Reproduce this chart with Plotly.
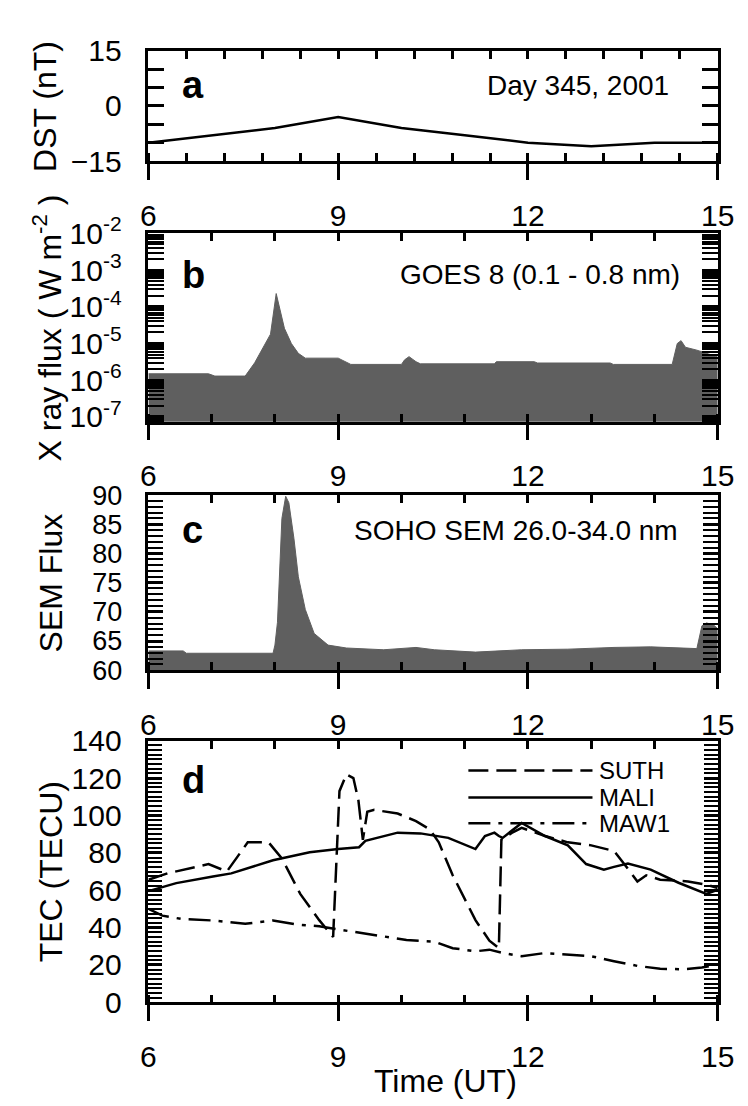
import plotly.graph_objects as go

# ---------------- data ----------------
dst_time = [6, 7, 8, 9, 10, 11, 12, 13, 14, 15]
dst_val = [-10, -8, -6, -3, -6, -8, -10, -11, -10, -10]

xray_time = [6.0, 6.95, 7.05, 7.53, 7.68, 7.82, 7.93, 8.02, 8.08, 8.15, 8.26, 8.37, 8.48,
             9.0, 9.2, 10.0, 10.05, 10.12, 10.23, 10.3, 11.47, 11.5, 12.1, 12.15, 13.3,
             13.35, 14.28, 14.36, 14.42, 14.49, 14.67, 14.96, 15.0]
xray_flux = [1.5e-6, 1.5e-6, 1.3e-6, 1.3e-6, 3.0e-6, 7.9e-6, 1.8e-5, 2.3e-4, 8.7e-5, 2.6e-5,
             1.0e-5, 5.4e-6, 4.0e-6, 4.0e-6, 2.7e-6, 2.7e-6, 3.6e-6, 4.4e-6, 3.2e-6, 2.8e-6,
             2.8e-6, 3.2e-6, 3.2e-6, 2.95e-6, 2.95e-6, 2.7e-6, 2.7e-6, 1.0e-5, 1.2e-5, 7.9e-6,
             6.6e-6, 4.4e-6, 4.3e-6]

sem_time = [6.0, 6.55, 6.6, 7.97, 8.0, 8.04, 8.11, 8.17, 8.22, 8.3, 8.37, 8.48, 8.62, 8.84,
            9.13, 9.72, 10.23, 10.52, 11.17, 11.9, 12.63, 13.36, 13.94, 14.67, 14.75, 14.82,
            14.93, 15.0]
sem_flux = [63.3, 63.3, 62.9, 62.9, 64.3, 68.2, 86.0, 89.8, 88.7, 82.6, 76.0, 70.4, 66.3, 64.3,
            63.8, 63.5, 63.9, 63.5, 63.1, 63.5, 63.6, 63.9, 64.0, 63.7, 67.6, 68.1, 67.8, 67.1]

suth_time = [6.0, 6.3, 6.95, 7.24, 7.57, 7.9, 8.11, 8.4, 8.7, 8.92, 9.02, 9.13, 9.24, 9.32,
             9.39, 9.46, 9.57, 9.94, 10.23, 10.45, 10.59, 10.81, 11.17, 11.39, 11.54, 11.58,
             11.76, 11.9, 12.27, 12.63, 13.0, 13.36, 13.5, 13.73, 13.87, 14.09, 14.53, 14.82, 15.0]
suth_tec = [65.6, 69, 74, 70, 85.6, 85.6, 77, 58, 44, 35, 113, 122, 120, 108,
            87, 102, 103, 101, 97, 92.5, 85.6, 68, 44, 33, 29, 87,
            91, 93.4, 89, 85.6, 84, 81, 75, 64.7, 68, 65.6, 64.7, 63, 61.2]

mali_time = [6.0, 6.44, 7.02, 7.31, 7.97, 8.55, 9.0, 9.33, 9.43, 9.94, 10.3, 10.74, 11.17,
             11.32, 11.47, 11.54, 11.6, 11.9, 12.27, 12.63, 12.92, 13.2, 13.36, 13.58, 13.94,
             14.38, 14.82, 15.0]
mali_tec = [59.5, 63.8, 67.3, 69, 76, 80.3, 82, 83, 86.4, 90.8, 90.4, 88, 82,
            89, 90.8, 89, 88, 96, 89, 84, 74, 71, 72.5, 74.3, 71,
            64, 58, 60.3]

maw1_time = [6.0, 6.22, 6.51, 7.02, 7.53, 7.97, 8.33, 8.7, 9.0, 9.43, 9.72, 10.08, 10.52,
             10.81, 11.17, 11.39, 11.61, 11.9, 12.27, 12.63, 13.0, 13.36, 13.73, 14.09,
             14.46, 14.75, 15.0]
maw1_tec = [50, 46.4, 44.7, 43.8, 42, 43.8, 41.7, 40.7, 39, 36.9, 35.5, 33.4, 32.5,
            29, 27.3, 28.2, 26.4, 24.7, 26.4, 25.6, 24.7, 22, 19.5, 18,
            17.7, 18.6, 20.3]

x_ticks = [6, 9, 12, 15]
xray_ticks = [1e-7, 1e-6, 1e-5, 1e-4, 1e-3, 1e-2]
xray_ticktext = ["10<sup>-7</sup>", "10<sup>-6</sup>", "10<sup>-5</sup>",
                 "10<sup>-4</sup>", "10<sup>-3</sup>", "10<sup>-2</sup>"]
legend_names = ["SUTH", "MALI", "MAW1"]

# ---------------- figure ----------------
FONT = "Liberation Sans, Arial, sans-serif"
W, H = 748, 1106
fill_col = "#5f5f5f"
TICKF = dict(size=30, color="black", family=FONT)

fig = go.Figure()

fig.add_trace(go.Scatter(x=dst_time, y=dst_val, mode="lines",
                         line=dict(color="black", width=2.5), xaxis="x", yaxis="y",
                         showlegend=False))
fig.add_trace(go.Scatter(x=xray_time, y=xray_flux, mode="lines", fill="tozeroy",
                         fillcolor=fill_col, line=dict(color=fill_col, width=1),
                         xaxis="x2", yaxis="y2", showlegend=False))
fig.add_trace(go.Scatter(x=sem_time, y=sem_flux, mode="lines", fill="tozeroy",
                         fillcolor=fill_col, line=dict(color=fill_col, width=1),
                         xaxis="x3", yaxis="y3", showlegend=False))
styles = {"SUTH": "20px,8px", "MALI": "solid", "MAW1": "22px,8px,4px,8px"}
for name, t, v in [("SUTH", suth_time, suth_tec), ("MALI", mali_time, mali_tec),
                   ("MAW1", maw1_time, maw1_tec)]:
    fig.add_trace(go.Scatter(x=t, y=v, mode="lines", name=name,
                             line=dict(color="black", width=2.5, dash=styles[name]),
                             xaxis="x4", yaxis="y4", showlegend=False))
# empty traces so that the top tick axes are drawn
for i in range(4):
    fig.add_trace(go.Scatter(x=[None], y=[None], xaxis=f"x{i+5}",
                             yaxis="y" if i == 0 else f"y{i+1}", showlegend=False,
                             hoverinfo="skip"))

xdom = [137 / W, 726 / W]
ydoms = [
    [1 - 136.7 / H, 1 - 22.7 / H],
    [1 - 406.7 / H, 1 - 211.7 / H],
    [1 - 664 / H, 1 - 482.7 / H],
    [1 - 1008 / H, 1 - 737 / H],
]
minor_x = [0.6, 1, 1, 1]


def xaxis(i):
    return dict(domain=xdom, anchor="y" if i == 0 else f"y{i+1}", range=[6, 15],
                tickmode="array", tickvals=x_ticks, ticks="outside", ticklen=16,
                tickwidth=2.5, tickcolor="black",
                minor=dict(dtick=minor_x[i], tick0=6, ticks="inside", ticklen=8,
                           tickwidth=2.5, tickcolor="black"),
                showline=True, linewidth=2.5, linecolor="black", mirror=True,
                showgrid=False, zeroline=False, ticklabelstandoff=10, tickfont=TICKF)


def topaxis(i):
    return dict(overlaying="x" if i == 0 else f"x{i+1}",
                anchor="y" if i == 0 else f"y{i+1}", side="top", range=[6, 15],
                dtick=minor_x[i], tick0=6, ticks="inside", ticklen=8, tickwidth=2.5,
                tickcolor="black", showticklabels=False, showline=False,
                showgrid=False, zeroline=False)


def yaxis(i, **kw):
    d = dict(domain=ydoms[i], anchor="x" if i == 0 else f"x{i+1}",
             ticks="inside", ticklen=14, tickwidth=2.5, tickcolor="black",
             showline=True, linewidth=2.5, linecolor="black", mirror="allticks",
             showgrid=False, zeroline=False, ticklabelstandoff=18, tickfont=TICKF)
    d.update(kw)
    return d


lay = {}
for i in range(4):
    lay["xaxis" if i == 0 else f"xaxis{i+1}"] = xaxis(i)
    lay[f"xaxis{i+5}"] = topaxis(i)

lay["yaxis"] = yaxis(0, range=[-15, 15], tickvals=[-15, 0, 15], ticklen=16,
                     minor=dict(dtick=5, tick0=0, ticks="inside", ticklen=8,
                                tickwidth=2.5, tickcolor="black"))
log_minor = [m * 10.0 ** e for e in range(-8, -2) for m in range(2, 10)]
lay["yaxis2"] = yaxis(1, type="log", range=[-7.13, -2], tickmode="array",
                      tickvals=xray_ticks, ticktext=xray_ticktext, ticklen=16,
                      minor=dict(tickmode="array", tickvals=log_minor, ticks="inside",
                                 ticklen=8, tickwidth=2, tickcolor="black"))
lay["yaxis3"] = yaxis(2, range=[60, 90], dtick=5, ticklen=15,
                      tickfont=dict(size=27, color="black", family=FONT),
                      minor=dict(dtick=1, tick0=60, ticks="inside", ticklen=5,
                                 tickwidth=1.5, tickcolor="black"))
lay["yaxis4"] = yaxis(3, range=[0, 140], dtick=20, ticklen=14,
                      minor=dict(dtick=2.5, tick0=0, ticks="inside", ticklen=7,
                                 tickwidth=2, tickcolor="black"))

fig.update_layout(**lay)

ann = []
# y-axis titles
ytitles = ["DST (nT)", "X ray flux ( W m<sup>-2</sup> )", "SEM Flux", "TEC (TECU)"]
ytitle_x = [30 / W, 32 / W, 36 / W, 36 / W]
for i, t in enumerate(ytitles):
    ann.append(dict(text=t, xref="paper", yref="paper", x=ytitle_x[i],
                    y=sum(ydoms[i]) / 2, textangle=-90, showarrow=False,
                    xanchor="center", yanchor="middle",
                    font=dict(size=32, family=FONT, color="black")))
# panel letters and labels
letters = ["a", "b", "c", "d"]
letter_y = [0.69, 0.78, 0.80, 0.85]
for i, L in enumerate(letters):
    sfx = "" if i == 0 else str(i + 1)
    ann.append(dict(text=f"<b>{L}</b>", xref=f"x{sfx} domain", yref=f"y{sfx} domain",
                    x=0.055, y=letter_y[i], showarrow=False, xanchor="left",
                    yanchor="middle", font=dict(size=38, family=FONT, color="black")))
labels = ["Day 345, 2001", "GOES 8 (0.1 - 0.8 nm)", "SOHO SEM 26.0-34.0 nm"]
label_x = [0.918, 0.937, 0.934]
for i, t in enumerate(labels):
    sfx = "" if i == 0 else str(i + 1)
    ann.append(dict(text=t, xref=f"x{sfx} domain", yref=f"y{sfx} domain",
                    x=label_x[i], y=letter_y[i], showarrow=False, xanchor="right",
                    yanchor="middle", font=dict(size=28, family=FONT, color="black")))
# x title
ann.append(dict(text="Time (UT)", xref="paper", yref="paper", x=444 / W,
                y=1 - 1089 / H, showarrow=False, xanchor="center", yanchor="middle",
                font=dict(size=32, family=FONT, color="black")))

# legend (drawn inside panel d)
shapes = []
leg_y = [0.886, 0.783, 0.684]
leg_dash = ["20px,8px", "solid", "22px,8px,4px,8px"]
for name, yy, ds in zip(legend_names, leg_y, leg_dash):
    shapes.append(dict(type="line", xref="x4 domain", yref="y4 domain",
                       x0=0.562, x1=0.78, y0=yy, y1=yy,
                       line=dict(color="black", width=2.5, dash=ds)))
    ann.append(dict(text=name, xref="x4 domain", yref="y4 domain", x=0.788, y=yy,
                    showarrow=False, xanchor="left", yanchor="middle",
                    font=dict(size=24, family=FONT, color="black")))

fig.update_layout(width=W, height=H, margin=dict(l=0, r=0, t=0, b=0),
                  paper_bgcolor="white", plot_bgcolor="white",
                  font=dict(family=FONT, color="black"),
                  annotations=ann, shapes=shapes, showlegend=False)

fig.write_html("out.html")
